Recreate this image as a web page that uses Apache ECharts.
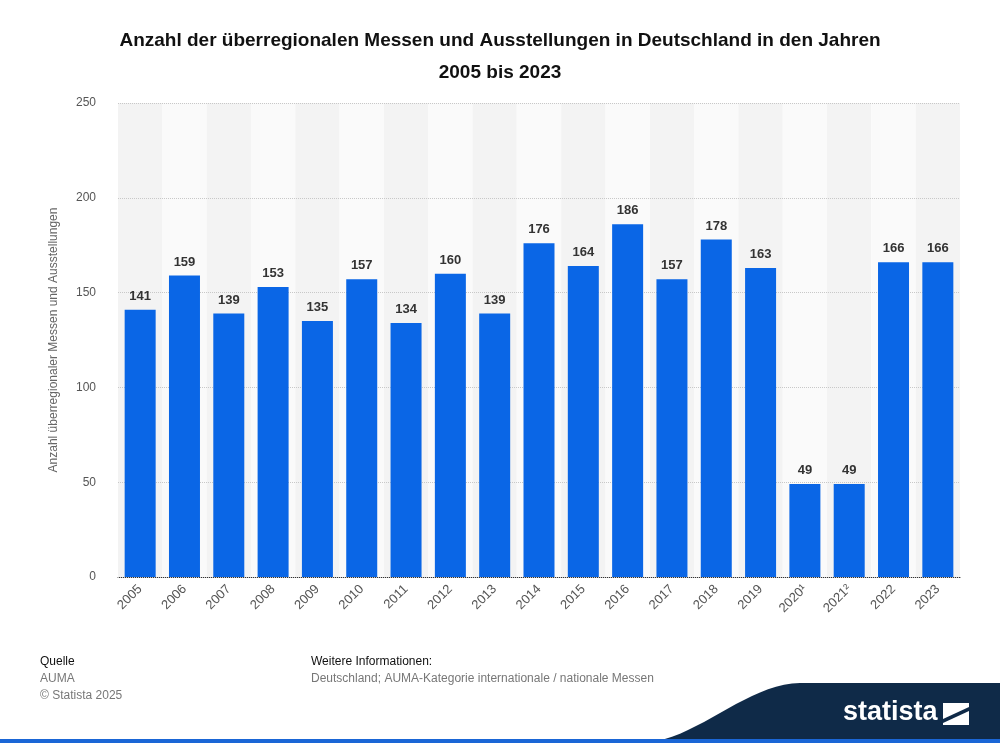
<!DOCTYPE html>
<html><head><meta charset="utf-8">
<script src="https://cdn.jsdelivr.net/npm/echarts@6/dist/echarts.min.js"></script>
<style>html,body{margin:0;padding:0;background:#fff}#c{width:1000px;height:743px}</style>
</head><body><div id="c"></div>
<script>
const categories = ['2005','2006','2007','2008','2009','2010','2011','2012','2013','2014','2015','2016','2017','2018','2019','2020¹','2021²','2022','2023'];
const values = [141,159,139,153,135,157,134,160,139,176,164,186,157,178,163,49,49,166,166];
const yTicks = [0,50,100,150,200,250];
const wave = [];
for (let i=0;i<=20;i++){const t=i/20;const x=640+160*t;const y=743-60*(3*t*t-2*t*t*t);wave.push([x,y]);}
wave.push([1000,683],[1000,743]);
const chart = echarts.init(document.getElementById('c'));
chart.setOption({
  animation:false,
  title:{text:'Anzahl der überregionalen Messen und Ausstellungen in Deutschland in den Jahren\n2005 bis 2023',left:'center',top:20,
    textStyle:{fontFamily:'Liberation Sans, Arial',fontSize:19,fontWeight:'bold',color:'#111',lineHeight:32}},
  grid:{left:118,right:40,top:103,bottom:166},
  xAxis:{type:'category',data:categories,z:0,
    axisLine:{lineStyle:{color:'#333'}},axisTick:{show:false},
    splitArea:{show:true,areaStyle:{color:['#f3f3f3','#fafafa']}},
    axisLabel:{rotate:45,color:'#555',fontSize:13,fontFamily:'Liberation Sans, Arial',margin:10,interval:0}},
  yAxis:{type:'value',z:1,min:yTicks[0],max:yTicks[yTicks.length-1],interval:50,
    name:'Anzahl überregionaler Messen und Ausstellungen',nameLocation:'middle',nameGap:58,
    nameTextStyle:{color:'#666',fontSize:12,fontFamily:'Liberation Sans, Arial'},
    axisLine:{show:false},axisTick:{show:false},
    axisLabel:{color:'#555',fontSize:12,fontFamily:'Liberation Sans, Arial',margin:22},
    splitLine:{lineStyle:{color:'#c8c8c8',type:'dotted'}}},
  series:[{type:'bar',data:values,barWidth:31,z:3,itemStyle:{color:'#0a66e6'},
    label:{show:true,position:'top',distance:7,color:'#333',fontWeight:'bold',fontSize:13,fontFamily:'Liberation Sans, Arial'}}],
  graphic:[
    {type:'text',x:40,y:656,style:{text:'Quelle',fill:'#111',font:'12px Liberation Sans, Arial'}},
    {type:'text',x:40,y:673,style:{text:'AUMA',fill:'#777',font:'12px Liberation Sans, Arial'}},
    {type:'text',x:40,y:690,style:{text:'© Statista 2025',fill:'#777',font:'12px Liberation Sans, Arial'}},
    {type:'text',x:311,y:656,style:{text:'Weitere Informationen:',fill:'#111',font:'12px Liberation Sans, Arial'}},
    {type:'text',x:311,y:673,style:{text:'Deutschland; AUMA-Kategorie internationale / nationale Messen',fill:'#777',font:'12px Liberation Sans, Arial'}},
    {type:'polygon',shape:{points:wave},style:{fill:'#0f2a48'}},
    {type:'rect',shape:{x:0,y:739,width:1000,height:4},style:{fill:'#1a66d6'}},
    {type:'text',x:843,y:699,style:{text:'statista',fill:'#fff',font:'bold 27px Liberation Sans, Arial'}},
    {type:'rect',shape:{x:943,y:703,width:26,height:22},style:{fill:'#fff'}},
    {type:'polygon',shape:{points:[[943,719],[969,707],[969,711],[943,723]]},style:{fill:'#0f2a48'}}
  ]
});
</script></body></html>
